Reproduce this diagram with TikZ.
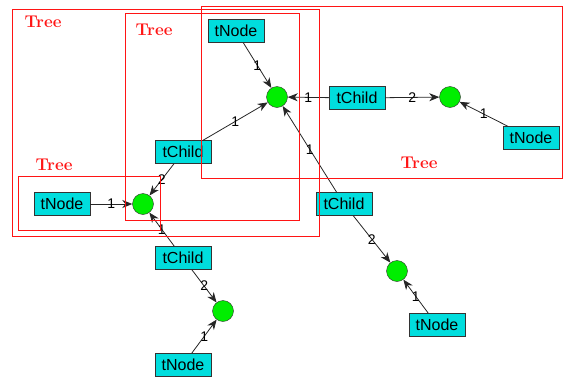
\documentclass[tikz,border=0pt]{standalone}
\usepackage{fontspec}
\setsansfont{Liberation Sans}
\usetikzlibrary{arrows.meta}
\definecolor{boxcyan}{RGB}{0,221,221}
\definecolor{ballgreen}{RGB}{0,238,0}
\definecolor{treered}{RGB}{255,20,20}
\begin{document}
\begin{tikzpicture}[x=1pt,y=-1pt,
  typebox/.style={draw=black!80, fill=boxcyan, minimum width=56pt, minimum height=23pt,
    inner sep=0pt, font=\sffamily\fontsize{16}{16}\selectfont},
  ball/.style={circle, draw=black!80, fill=ballgreen, minimum size=21pt, inner sep=0pt},
  link/.style={draw=black!85, line width=0.8pt, -{Stealth[length=10pt,width=8pt,inset=3pt]}},
  num/.style={font=\sffamily\fontsize{14}{14}\selectfont, inner sep=0pt, midway},
  frame/.style={draw=treered, line width=1pt},
  frametitle/.style={text=treered, font=\bfseries\fontsize{17}{17}\selectfont}
]
\useasboundingbox (0,0) rectangle (563,378);

% tree nodes (green balls)
\node[ball] (c1) at (277,97) {};
\node[ball] (c2) at (450,97) {};
\node[ball] (c3) at (143,204) {};
\node[ball] (c4) at (223,311) {};
\node[ball] (c5) at (397,271) {};

% typed boxes
\node[typebox] (tn1) at (236,31)  {tNode};
\node[typebox] (tc1) at (357,98)  {tChild};
\node[typebox] (tn2) at (531,138) {tNode};
\node[typebox] (tc2) at (183,152) {tChild};
\node[typebox] (tn3) at (62,204)  {tNode};
\node[typebox] (tc3) at (183,258) {tChild};
\node[typebox] (tn4) at (183,365) {tNode};
\node[typebox] (tc4) at (344,204) {tChild};
\node[typebox] (tn5) at (437,325) {tNode};

% numbered links
\draw[link] (tn1) -- node[num]{1} (c1);
\draw[link] (tc2) -- node[num]{1} (c1);
\draw[link] (tc1) -- node[num]{1} (c1);
\draw[link] (tc1) -- node[num]{2} (c2);
\draw[link] (tn2) -- node[num]{1} (c2);
\draw[link] (tc2) -- node[num]{2} (c3);
\draw[link] (tn3) -- node[num]{1} (c3);
\draw[link] (tc3) -- node[num]{1} (c3);
\draw[link] (tc3) -- node[num]{2} (c4);
\draw[link] (tn4) -- node[num]{1} (c4);
\draw[link] (tc4) -- node[num]{1} (c1);
\draw[link] (tc4) -- node[num]{2} (c5);
\draw[link] (tn5) -- node[num]{1} (c5);

% Tree frames
\draw[frame] (12,9) rectangle (319,236);
\draw[frame] (125,13) rectangle (299,220);
\draw[frame] (201,6) rectangle (562,178);
\draw[frame] (18,176) rectangle (160,230);
\node[frametitle] (t1) at (43,22)  {Tree};
\node[frametitle] (t2) at (154,30) {Tree};
\node[frametitle] (t3) at (419,163) {Tree};
\node[frametitle] (t4) at (54,165) {Tree};
\end{tikzpicture}
\end{document}
